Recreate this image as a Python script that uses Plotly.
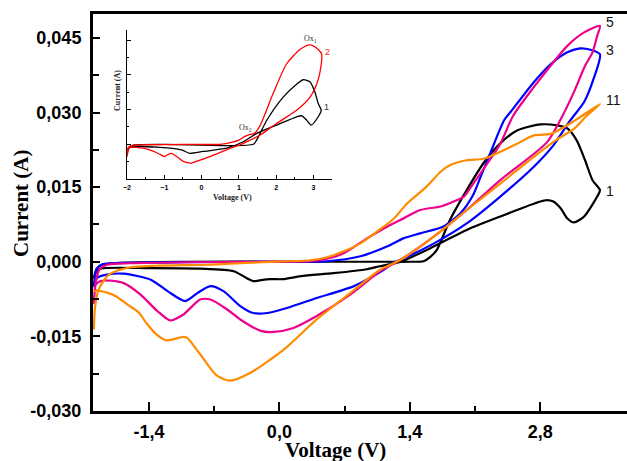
import plotly.graph_objects as go

# ---- main cyclic voltammograms (voltage in V, current in A) ----
# cycle 1
v1_fwd = [-1.99, -1.96, -1.9, -1.7, -1.0, 0.0, 1.0, 1.40, 1.545, 1.62, 1.69, 1.83, 2.01, 2.19, 2.37, 2.55, 2.80, 2.98, 3.09, 3.19, 3.28, 3.36, 3.44]
i1_fwd = [-0.0032, -0.0014, -0.0006, -0.0002, 0.0, 0.0, 0.0, 0.0, 0.0001, 0.0010, 0.0024, 0.0084, 0.0144, 0.0198, 0.0238, 0.0264, 0.0276, 0.0274, 0.0268, 0.0244, 0.0204, 0.0164, 0.0144]
v1_rev = [3.41, 3.27, 3.16, 3.09, 3.02, 2.94, 2.87, 2.80, 2.37, 2.01, 1.66, 1.30, 1.08, 0.94, 0.58, 0.23, 0.04, -0.10, -0.20, -0.28, -0.35, -0.49, -0.85, -1.38, -1.92, -1.97, -1.99]
i1_rev = [0.0131, 0.0091, 0.0079, 0.0087, 0.0107, 0.0121, 0.0124, 0.0121, 0.0091, 0.0064, 0.0031, 0.0000, -0.0009, -0.0015, -0.0023, -0.0029, -0.0035, -0.0035, -0.0037, -0.0039, -0.0033, -0.0019, -0.0014, -0.0013, -0.0014, -0.0022, -0.0032]

# cycle 3
v3_fwd = [-1.99, -1.96, -1.9, -1.6, -1.0, -0.2, 0.51, 0.87, 1.16, 1.33, 1.51, 1.76, 1.94, 2.07, 2.16, 2.26, 2.41, 2.48, 2.73, 2.91, 3.09, 3.23, 3.34, 3.44]
i3_fwd = [-0.0049, -0.0014, -0.0005, -0.0002, -0.0001, 0.0, 0.0001, 0.0011, 0.0031, 0.0047, 0.0057, 0.0071, 0.0097, 0.0131, 0.0171, 0.0217, 0.0284, 0.0301, 0.0361, 0.0397, 0.0421, 0.0429, 0.0426, 0.0417]
v3_rev = [3.37, 3.27, 3.12, 2.94, 2.73, 2.37, 2.01, 1.66, 1.30, 1.22, 1.12, 0.80, 0.40, 0.08, -0.13, -0.28, -0.42, -0.60, -0.74, -0.88, -1.01, -1.20, -1.38, -1.67, -1.85, -1.96, -1.99]
i3_rev = [0.0367, 0.0321, 0.0284, 0.0234, 0.0191, 0.0131, 0.0077, 0.0037, 0.0004, -0.0002, -0.0016, -0.0049, -0.0073, -0.0093, -0.0103, -0.0103, -0.0089, -0.0059, -0.0049, -0.0063, -0.0079, -0.0059, -0.0036, -0.0024, -0.0026, -0.0033, -0.0049]

# cycle 5
v5_fwd = [-1.99, -1.97, -1.93, -1.85, -1.6, -1.0, -0.2, 0.33, 0.51, 0.69, 0.94, 1.16, 1.33, 1.51, 1.73, 1.87, 1.98, 2.08, 2.23, 2.37, 2.51, 2.73, 2.91, 3.09, 3.27, 3.44]
i5_fwd = [-0.0083, -0.0040, -0.0015, -0.0006, -0.0003, -0.0001, 0.0, 0.0001, 0.0006, 0.0017, 0.0047, 0.0071, 0.0087, 0.0104, 0.0111, 0.0121, 0.0131, 0.0157, 0.0197, 0.0237, 0.0294, 0.0351, 0.0394, 0.0434, 0.0461, 0.0474]
v5_rev = [3.41, 3.36, 3.28, 3.16, 3.02, 2.87, 2.37, 2.01, 1.66, 1.30, 1.08, 1.01, 0.76, 0.40, 0.15, -0.06, -0.20, -0.42, -0.56, -0.74, -0.85, -1.03, -1.17, -1.31, -1.49, -1.67, -1.81, -1.92, -1.97, -1.99]
i5_rev = [0.0454, 0.0421, 0.0394, 0.0341, 0.0287, 0.0240, 0.0164, 0.0104, 0.0051, 0.0004, -0.0019, -0.0029, -0.0066, -0.0109, -0.0133, -0.0141, -0.0139, -0.0116, -0.0096, -0.0076, -0.0076, -0.0106, -0.0118, -0.0099, -0.0066, -0.0043, -0.0038, -0.0039, -0.0046, -0.0083]

# cycle 11
v11_fwd = [-1.99, -1.98, -1.94, -1.83, -1.62, -1.33, -0.76, -0.2, 0.33, 0.51, 0.69, 0.87, 1.05, 1.23, 1.37, 1.58, 1.73, 1.83, 2.01, 2.19, 2.37, 2.55, 2.73, 2.91, 3.02, 3.23, 3.44]
i11_fwd = [-0.0136, -0.0095, -0.0056, -0.0026, -0.0012, -0.0008, -0.0006, -0.0001, 0.0003, 0.0009, 0.0021, 0.0037, 0.0061, 0.0087, 0.0117, 0.0151, 0.0181, 0.0194, 0.0204, 0.0207, 0.0221, 0.0237, 0.0254, 0.0257, 0.0267, 0.0291, 0.0317]
v11_rev = [3.30, 3.16, 2.98, 2.73, 2.37, 2.01, 1.66, 1.30, 1.08, 0.76, 0.40, 0.05, -0.31, -0.53, -0.67, -0.85, -0.99, -1.03, -1.14, -1.21, -1.32, -1.42, -1.51, -1.63, -1.76, -1.85, -1.96, -1.99]
i11_rev = [0.0294, 0.0267, 0.0246, 0.0211, 0.0157, 0.0104, 0.0051, 0.0004, -0.0016, -0.0063, -0.0116, -0.0176, -0.0223, -0.0239, -0.0229, -0.0186, -0.0153, -0.0151, -0.0156, -0.0158, -0.0146, -0.0125, -0.0102, -0.0086, -0.0069, -0.0062, -0.0058, -0.0060]

# ---- inset: cycles 1 and 2 ----
vi1 = [-2.0, -1.95, -1.8, -1.0, 1.39, 1.48, 1.75, 2.19, 2.55, 2.73, 2.91, 3.04, 3.13, 3.21,
       3.13, 2.94, 2.82, 2.69, 2.55, 2.01, 1.48, 1.12, 0.67, 0.04, -0.32, -0.54, -1.12, -1.93, -2.0]
ii1 = [-0.0040, -0.0012, -0.0003, 0.0, 0.0, 0.0019, 0.0104, 0.0204, 0.0260, 0.0279, 0.0269, 0.0226, 0.0176, 0.0147,
       0.0119, 0.0083, 0.0104, 0.0123, 0.0119, 0.0083, 0.0047, 0.0011, -0.0017, -0.0031, -0.0039, -0.0024, -0.0013, -0.0014, -0.0040]
vi2 = [-2.0, -1.97, -1.85, -1.5, -0.5, 0.5, 0.8, 1.0, 1.15, 1.3, 1.42, 1.55, 1.7, 1.92, 2.28, 2.64, 2.91, 3.13, 3.22,
       3.20, 3.11, 2.91, 2.55, 2.01, 1.57, 1.12, 0.67, 0.22, -0.14, -0.27, -0.49, -0.65, -0.81, -0.90, -0.99, -1.10, -1.30, -1.57, -1.93, -2.0]
ii2 = [-0.0053, -0.0015, -0.0005, -0.0002, 0.0, 0.0, 0.0008, 0.0018, 0.0033, 0.0043, 0.0047, 0.0075, 0.0130, 0.0219, 0.0347, 0.0410, 0.0430, 0.0410, 0.0390,
       0.0333, 0.0269, 0.0204, 0.0147, 0.0090, 0.0040, 0.0004, -0.0024, -0.0053, -0.0074, -0.0081, -0.0074, -0.0055, -0.0039, -0.0044, -0.0053, -0.0045, -0.0030, -0.0017, -0.0014, -0.0053]

# tick labels
x_ticks = [-1.4, 0.0, 1.4, 2.8]
x_ticktext = ["-1,4", "0,0", "1,4", "2,8"]
y_ticks = [-0.030, -0.015, 0.0, 0.015, 0.030, 0.045]
y_ticktext = ["-0,030", "-0,015", "0,000", "0,015", "0,030", "0,045"]
inset_x_ticks = [-2, -1, 0, 1, 2, 3]

main_series = [
    ("1", v1_fwd + v1_rev, i1_fwd + i1_rev, "#000000"),
    ("3", v3_fwd + v3_rev, i3_fwd + i3_rev, "#0000FF"),
    ("5", v5_fwd + v5_rev, i5_fwd + i5_rev, "#EC008C"),
    ("11", v11_fwd + v11_rev, i11_fwd + i11_rev, "#FF8C00"),
]

fig = go.Figure()
for name, vx, iy, col in main_series:
    fig.add_trace(go.Scatter(x=vx, y=iy, mode="lines", name=name,
                             line=dict(color=col, width=2.2, shape="spline", smoothing=0.7),
                             xaxis="x", yaxis="y", showlegend=False))

# curve labels at the anodic turning point of each cycle
for name, vx, iy, col in main_series:
    k = max(range(len(vx)), key=lambda j: vx[j])
    fig.add_annotation(x=vx[k], y=iy[k], xref="x", yref="y", text=name, showarrow=False,
                       xanchor="left", xshift=4, yshift=4 if name != "1" else -1,
                       font=dict(family="Arial", size=14, color="#111111"))

for vx, iy, col in [(vi1, ii1, "#000000"), (vi2, ii2, "#FF0000")]:
    fig.add_trace(go.Scatter(x=vx, y=iy, mode="lines",
                             line=dict(color=col, width=1.3, shape="spline", smoothing=0.7),
                             xaxis="x2", yaxis="y2", showlegend=False))

axis_font = dict(family="Arial", size=18, color="black", weight="bold")
fig.update_layout(
    width=627, height=461,
    margin=dict(l=93, r=0, t=14, b=50),
    paper_bgcolor="white", plot_bgcolor="white",
    xaxis=dict(range=[-2.0, 3.73], showline=True, linewidth=3, linecolor="black", mirror=True,
               tickvals=x_ticks, ticktext=x_ticktext, ticks="inside", ticklen=9, tickwidth=2,
               tickcolor="black", tickfont=axis_font, ticklabelstandoff=2,
               minor=dict(tickvals=[-0.7, 0.7, 2.1], ticks="inside", ticklen=5, tickwidth=2, tickcolor="black"),
               showgrid=False, zeroline=False, domain=[0, 1]),
    yaxis=dict(range=[-0.030, 0.0498], showline=True, linewidth=3, linecolor="black",
               tickvals=y_ticks, ticktext=y_ticktext, ticks="inside", ticklen=7, tickwidth=2,
               tickcolor="black", tickfont=axis_font, ticklabelstandoff=5,
               minor=dict(tickvals=[-0.0225, -0.0075, 0.0075, 0.0225, 0.0375], ticks="inside",
                          ticklen=6, tickwidth=2, tickcolor="black"),
               showgrid=False, zeroline=False, domain=[0, 1]),
    xaxis2=dict(range=[-2.0, 3.5], domain=[0.0637, 0.4476], anchor="y2", showline=True, linewidth=1.3,
                linecolor="black", tickvals=inset_x_ticks, ticks="inside", ticklen=4, tickwidth=1,
                tickcolor="black", tickfont=dict(family="Arial", size=7, color="black", weight="bold"),
                ticklabelstandoff=1,
                minor=dict(dtick=0.5, tick0=0, ticks="inside", ticklen=2, tickwidth=1, tickcolor="black"),
                showgrid=False, zeroline=False),
    yaxis2=dict(range=[-0.015, 0.0494], domain=[0.5844, 0.9597], anchor="x2", showline=True, linewidth=1.3,
                linecolor="black", tickvals=[0.0, 0.015, 0.030, 0.045], showticklabels=False,
                ticks="inside", ticklen=4, tickwidth=1, tickcolor="black",
                minor=dict(tickvals=[-0.0075, 0.0075, 0.0225, 0.0375], ticks="inside", ticklen=2,
                           tickwidth=1, tickcolor="black"),
                showgrid=False, zeroline=False),
)

title_font = dict(family="Liberation Serif, Times New Roman, serif", size=21, color="black", weight="bold")
inset_font = dict(family="Liberation Serif, Times New Roman, serif", size=8, color="#222222", weight="bold")
note_font = dict(family="Liberation Serif, serif", size=8, color="#333333")

# text placed by pixel position (x from left, y from top of the page)
W, H = 627, 461
L, R, T, B = 93, 0, 14, 50
pw, ph = W - L - R, H - T - B


def add_px_text(text, px, py, font, angle=0):
    fig.add_annotation(text=text, x=(px - L) / pw, y=(H - B - py) / ph, xref="paper", yref="paper",
                       xanchor="center", yanchor="middle", textangle=angle, showarrow=False, font=font)


add_px_text("Voltage (V)", 335, 450, title_font)
add_px_text("Current (A)", 21, 203, title_font, angle=-90)
add_px_text("Voltage (V)", 232, 197, inset_font)
add_px_text("Current (A)", 118, 91, inset_font, angle=-90)
add_px_text("Ox<sub>1</sub>", 310, 39, note_font)
add_px_text("Ox<sub>2</sub>", 245, 128, note_font)
add_px_text("2", 327, 52, dict(family="Arial", size=9, color="#FF2020"))
add_px_text("1", 326, 107, dict(family="Arial", size=9, color="#333333"))

fig.write_html("out.html")
